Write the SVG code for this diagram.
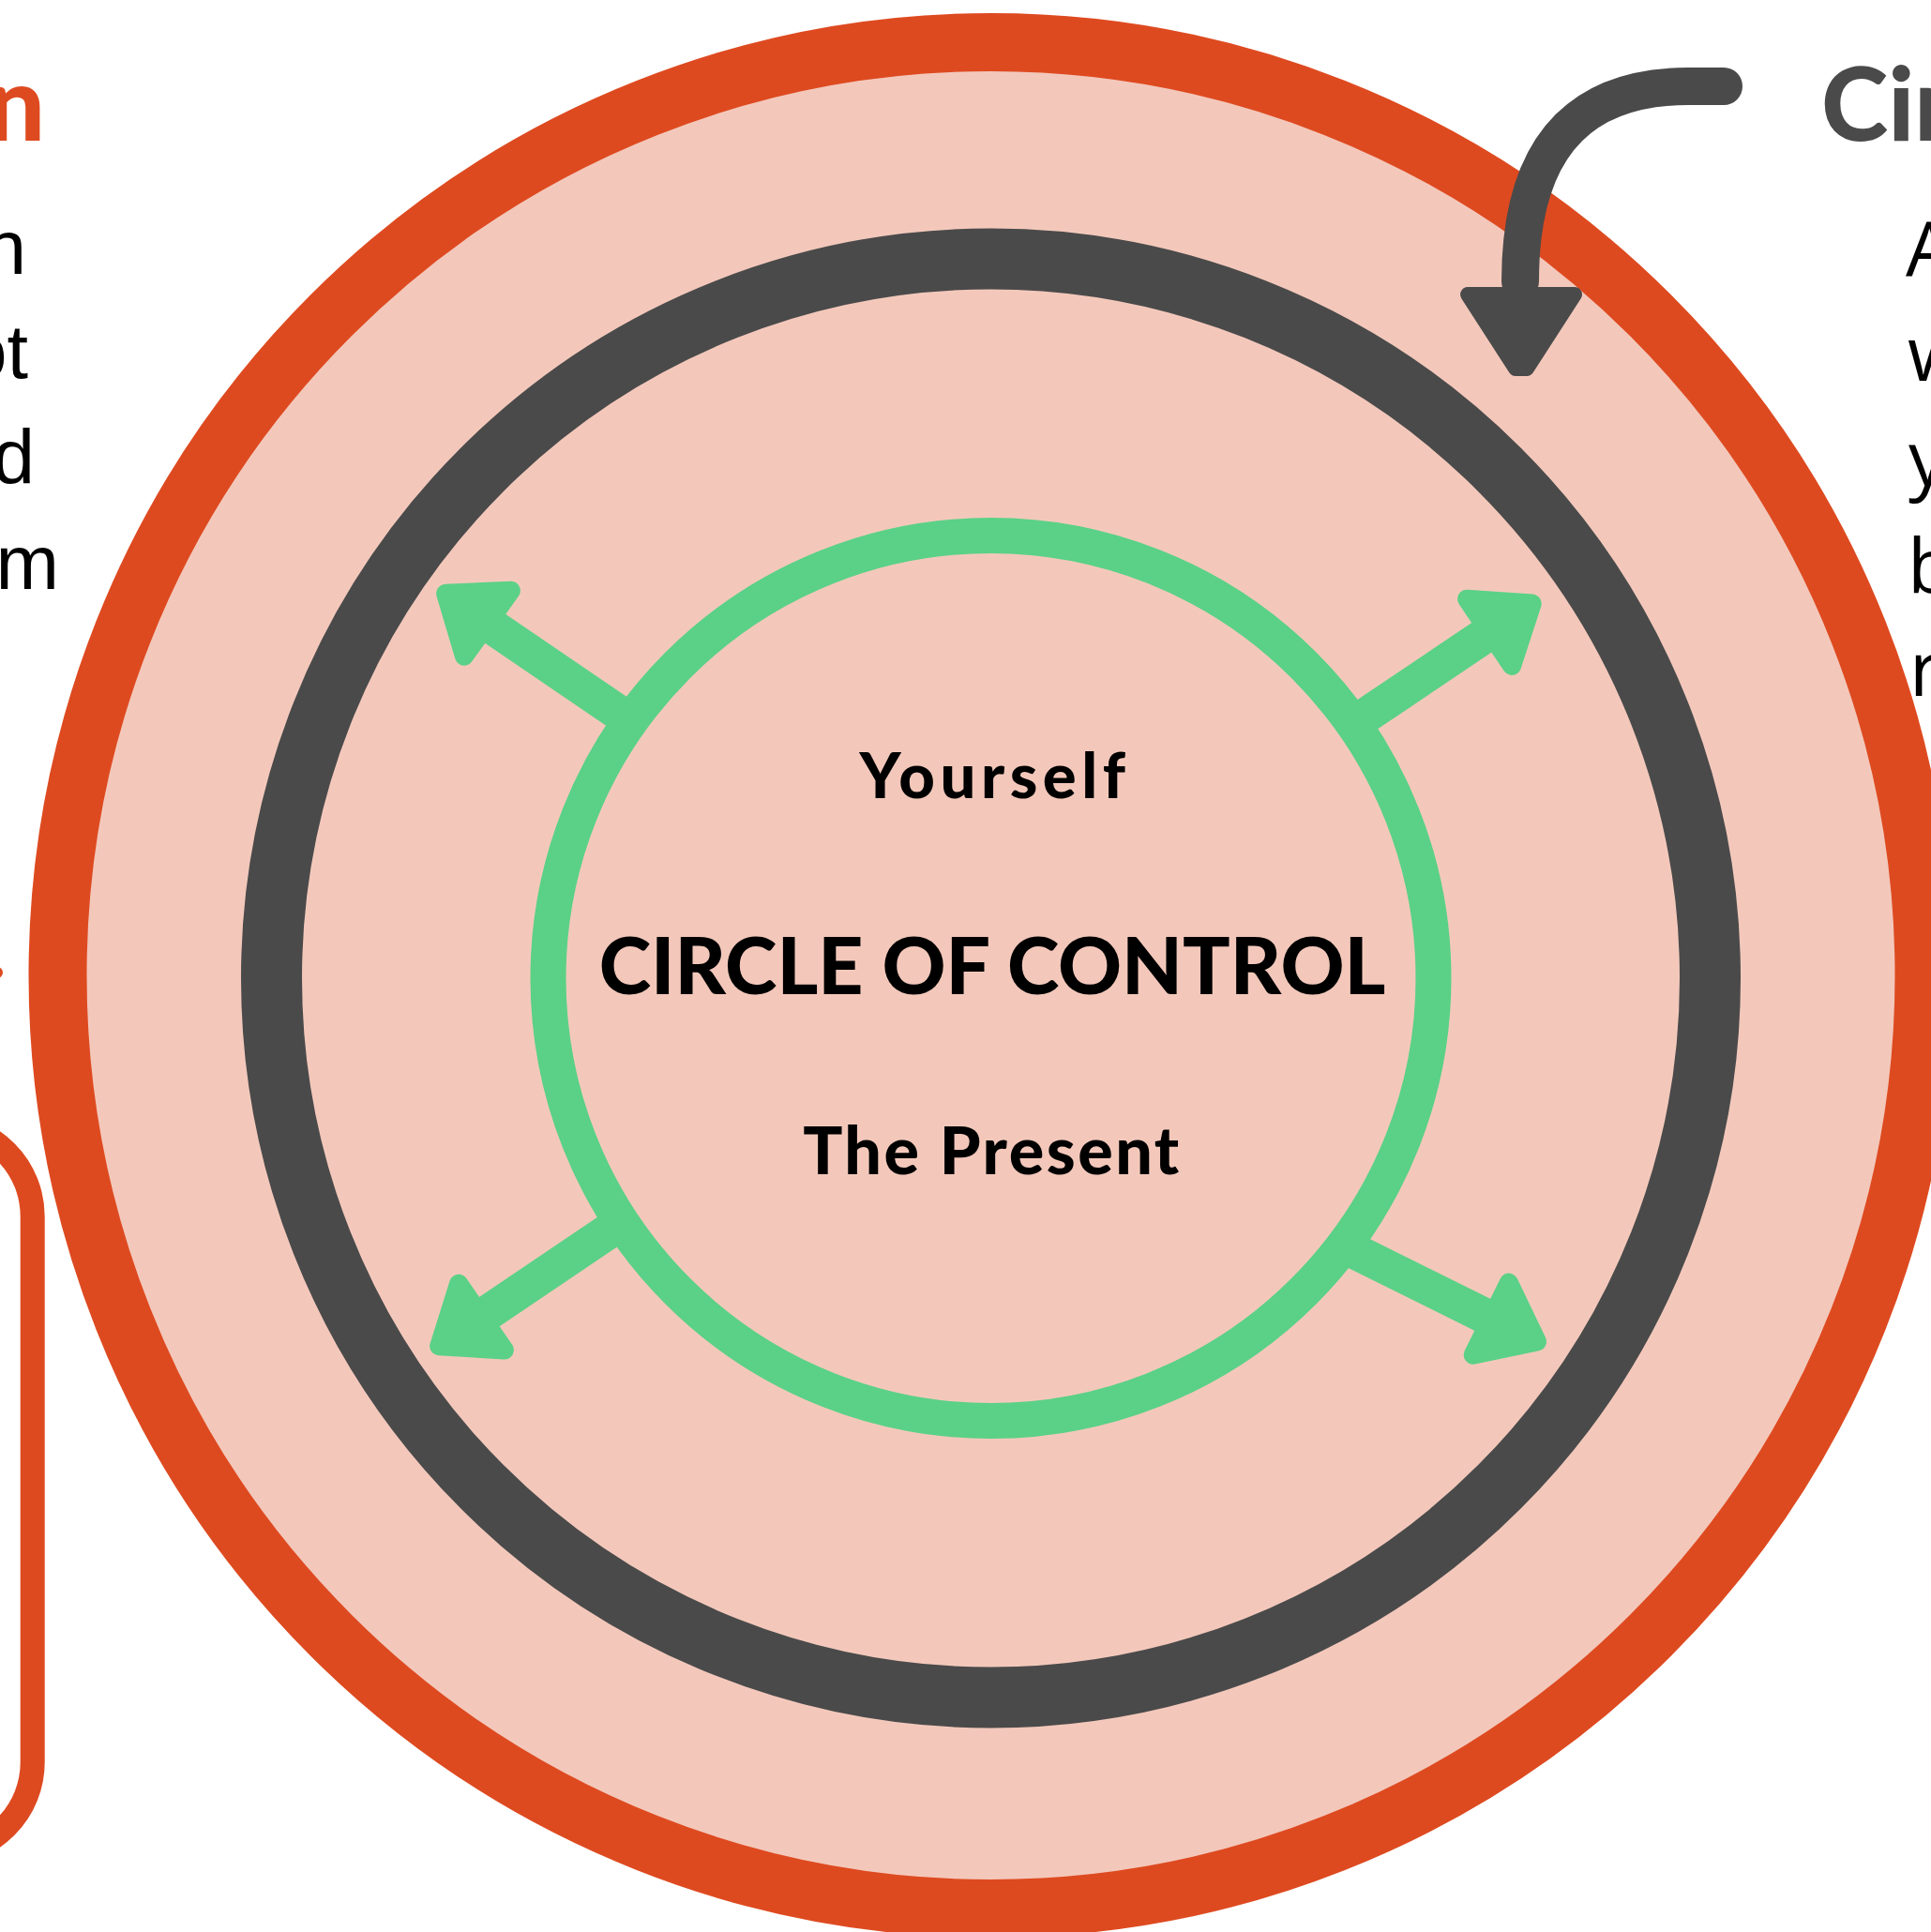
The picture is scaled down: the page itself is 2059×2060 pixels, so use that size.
<svg xmlns="http://www.w3.org/2000/svg" xmlns:xlink="http://www.w3.org/1999/xlink" width="2059" height="2060" viewBox="0 0 2059 2060">
  <style>
    .ring { fill: none; }
    .concern { stroke: #DE4A20; stroke-width: 62; }
    .influence { stroke: #4A4A4A; stroke-width: 65; }
    .control { stroke: #5AD186; stroke-width: 38; }
    .shaft { stroke: #5AD186; stroke-width: 38; fill: none; }
    .head { fill: #5AD186; stroke: #5AD186; stroke-width: 20; stroke-linejoin: round; }
    .center-label { font-family: Lato, "Noto Sans", sans-serif; fill: #000; text-anchor: middle; font-weight: 900; }
    .heading { font-family: Lato, "Noto Sans", sans-serif; font-weight: 900; }
    .body-l { font-family: "Liberation Sans", Arial, sans-serif; font-size: 81px; fill: #000; text-anchor: end; }
    .body-r { font-family: "Open Sans", "Liberation Sans", sans-serif; font-size: 80px; fill: #000; }
  </style>
  <defs>
    <!-- green arrowhead, tip at origin pointing along +x -->
    <path id="ah" class="head" d="M -10 0 L -65 -43 L -65 43 Z"/>
  </defs>

  <rect width="2059" height="2060" fill="#FFFFFF"/>

  <!-- left side column (cut off by the page edge) -->
  <g id="concern-text">
    <text class="heading" x="48" y="150" font-size="110" fill="#DE4A20" text-anchor="end">rn</text>
    <text class="body-l" x="28" y="292">n</text>
    <text class="body-l" x="30" y="403">ot</text>
    <text class="body-l" x="37" y="515">od</text>
    <text class="body-l" x="63" y="628">m</text>
    <circle cx="-3" cy="1037" r="6" fill="#DE4A20"/>
  </g>
  <g id="concern-box">
    <rect x="-400" y="1200" width="434.7" height="776" rx="97" ry="97" fill="none" stroke="#DE4A20" stroke-width="26"/>
  </g>

  <!-- right side column (cut off by the page edge) -->
  <g id="influence-text">
    <text class="heading" x="1942" y="150" font-size="108" fill="#4A4A4A">Cir</text>
    <text class="body-r" x="2032" y="294">A</text>
    <text class="body-r" x="2034" y="406">w</text>
    <text class="body-r" x="2035" y="518">y</text>
    <text class="body-r" x="2034" y="632">b</text>
    <text class="body-r" x="2036" y="742">r</text>
  </g>

  <!-- circle of concern -->
  <g id="circle-concern">
    <circle cx="1056.5" cy="1040" r="995" fill="#F3C8BB" class="concern"/>
  </g>

  <!-- circle of influence -->
  <g id="circle-influence">
    <circle class="ring influence" cx="1056.5" cy="1043" r="767"/>
  </g>

  <!-- circle of control -->
  <g id="circle-control">
    <circle class="ring control" cx="1056.5" cy="1043" r="472"/>
    <text class="center-label" x="1061" y="851" font-size="67" letter-spacing="5.5">Yourself</text>
    <text class="center-label" x="1058" y="1060" font-size="84">CIRCLE OF CONTROL</text>
    <text class="center-label" x="1058" y="1252" font-size="70" letter-spacing="2.5">The Present</text>
  </g>

  <g id="connectors">
    <!-- outward arrows from the circle of control -->
    <line class="shaft" x1="659.2" y1="759.6" x2="515.8" y2="661.9"/>
    <use xlink:href="#ah" transform="translate(467 627) rotate(215.5)"/>
    <line class="shaft" x1="1456.2" y1="763.1" x2="1592.2" y2="671.5"/>
    <use xlink:href="#ah" transform="translate(1642 638) rotate(-33.96)"/>
    <line class="shaft" x1="649.6" y1="1312.3" x2="509.4" y2="1406.9"/>
    <use xlink:href="#ah" transform="translate(460 1441) rotate(145.4)"/>
    <line class="shaft" x1="1434" y1="1329" x2="1594.2" y2="1408.4"/>
    <use xlink:href="#ah" transform="translate(1648 1435) rotate(26.33)"/>

    <!-- pointer from the influence heading down to its ring -->
    <path d="M 1838 92 L 1800 92 C 1700 92 1621 140 1621 300" fill="none" stroke="#4A4A4A" stroke-width="40" stroke-linecap="round"/>
    <path d="M 1565 314 L 1679 314 L 1628 393 L 1616 393 Z" fill="#4A4A4A" stroke="#4A4A4A" stroke-width="16" stroke-linejoin="round"/>
  </g>
</svg>
